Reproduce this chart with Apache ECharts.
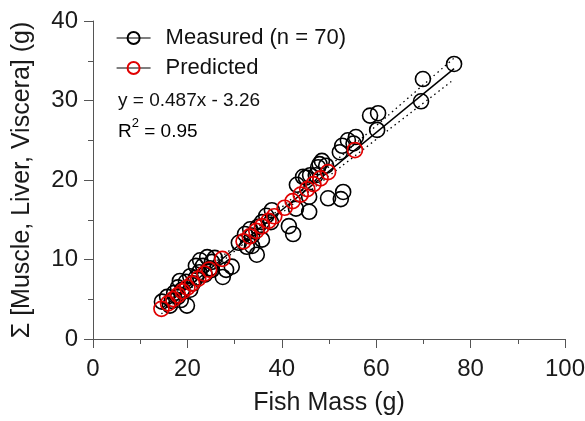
<!DOCTYPE html>
<html><head><meta charset="utf-8">
<script src="https://cdn.jsdelivr.net/npm/echarts@6/dist/echarts.min.js"></script>
<style>html,body{margin:0;padding:0;background:#fff}#c{width:585px;height:421px}</style>
</head><body><div id="c"></div>
<script>
const measuredX = [76.5,69.9,69.5,60.4,58.7,60.2,55.7,54.0,52.8,52.3,53.0,52.5,49.8,48.5,47.7,47.2,45.1,43.2,45.8,45.8,43.0,41.5,42.4,55.2,37.9,36.7,37.7,35.8,34.9,33.3,33.7,35.8,33.7,34.7,32.6,30.9,29.4,28.2,27.5,25.2,24.2,22.7,21.8,23.3,24.8,22.5,23.7,25.2,21.8,19.7,20.6,18.0,18.9,17.2,18.0,15.7,16.7,14.6,19.9,18.6,16.3,20.6,21.2,25.8,32.2,46.0,48.0,44.5,49.4,18.4];
const measuredY = [34.6,32.7,29.9,28.4,28.1,26.3,25.4,25.0,24.3,23.5,18.5,17.6,17.7,22.4,21.6,20.6,20.3,19.4,17.9,16.0,16.4,14.2,13.2,24.6,16.2,15.5,14.7,14.7,14.1,13.8,13.0,12.5,11.7,10.6,11.6,12.1,9.1,8.7,7.8,9.7,10.3,9.9,9.2,9.2,8.9,8.4,8.1,8.7,7.7,7.2,7.9,6.5,6.2,5.8,5.3,5.3,4.8,4.7,4.2,4.9,4.2,6.2,7.0,10.2,13.2,20.6,22.0,20.4,21.8,7.3];
const predictedX = [14.5,15.9,17,18,19,20,21,22.3,23.6,24.6,27.4,31.9,33.2,34.6,35.8,37.2,38.4,40.6,42.3,44,45.4,46.7,48.2,49.8,55.5];
const predictedY = [3.80,4.48,5.02,5.51,5.99,6.48,6.97,7.60,8.23,8.72,10.08,12.28,12.91,13.59,14.17,14.86,15.44,16.51,17.34,18.17,18.85,19.48,20.21,20.99,23.77];
const fitX = [14.5, 76.5];
const fitY = [3.80, 34.00];
const bandX = [14.5,20,25,30,35,40,45,50,55,60,65,70,76.5];
const bandUpper = [4.43,6.97,9.30,11.66,14.10,16.59,19.13,21.68,24.25,26.82,29.40,31.98,35.34];
const bandLower = [3.17,5.99,8.54,11.04,13.48,15.85,18.19,20.50,22.81,25.10,27.40,29.68,32.66];
const xTicks = [0,20,40,60,80,100];
const yTicks = [0,10,20,30,40];
const eqText = 'y = 0.487x - 3.26';
const r2Text = '0.95';

const zip = (a,b) => a.map((v,i)=>[v,b[i]]);
const FONT = '"Liberation Sans", Arial, sans-serif';
const chart = echarts.init(document.getElementById('c'), null, {renderer:'canvas'});
const axisCommon = {
  axisLine:{show:true,onZero:false,lineStyle:{color:'#555',width:1}},
  axisTick:{show:true,inside:false,length:9,lineStyle:{color:'#555',width:1}},
  minorTick:{show:true,splitNumber:2,length:5,lineStyle:{color:'#555',width:1}},
  splitLine:{show:false},
  axisLabel:{color:'#1a1a1a',fontSize:24,fontFamily:FONT},
  nameTextStyle:{color:'#1a1a1a',fontSize:25,fontFamily:FONT}
};
chart.setOption({
  animation:false,
  backgroundColor:'#fff',
  grid:{left:93,right:20,top:21,bottom:82,containLabel:false,outerBoundsMode:'none'},
  xAxis: Object.assign({}, axisCommon, {
    type:'value', min:xTicks[0], max:xTicks[xTicks.length-1], interval:20,
    name:'Fish Mass (g)', nameLocation:'middle', nameGap:52,
    axisLabel:Object.assign({}, axisCommon.axisLabel, {margin:18})
  }),
  yAxis: Object.assign({}, axisCommon, {
    type:'value', min:yTicks[0], max:yTicks[yTicks.length-1], interval:10,
    name:'Σ [Muscle, Liver, Viscera] (g)', nameLocation:'middle', nameGap:58, nameRotate:90,
    axisLabel:Object.assign({}, axisCommon.axisLabel, {margin:15})
  }),
  legend:{
    orient:'vertical', left:111, top:22, itemWidth:34, itemHeight:15, itemGap:8,
    data:['Measured (n = 70)','Predicted'],
    textStyle:{fontSize:22,fontFamily:FONT,color:'#111',padding:[0,0,0,10]},
    lineStyle:{color:'#000',width:1.2,opacity:1},
    selectedMode:false
  },
  graphic:[
    {type:'text', left:118, top:91, style:{text:eqText, font:'19px "Liberation Sans", Arial, sans-serif', fill:'#111'}},
    {type:'text', left:118, top:117, style:{
      text:'{r|R}{s|2}{r| = '+r2Text+'}',
      rich:{r:{fontSize:19,fontFamily:FONT,color:'#111',verticalAlign:'bottom',lineHeight:24},
            s:{fontSize:13,fontFamily:FONT,color:'#111',verticalAlign:'top',lineHeight:24}}
    }}
  ],
  series:[
    {name:'Measured (n = 70)', type:'line', data:zip(measuredX,measuredY),
     symbol:'circle', symbolSize:15, showAllSymbol:true,
     lineStyle:{opacity:0,width:0},
     itemStyle:{color:'rgba(0,0,0,0)',borderColor:'#000',borderWidth:1.6},
     emphasis:{disabled:true}, z:2},
    {name:'fit', type:'line', data:zip(fitX,fitY), symbol:'none',
     lineStyle:{color:'#000',width:1.5}, z:3, silent:true},
    {name:'upper', type:'line', data:zip(bandX,bandUpper), symbol:'none', smooth:true,
     lineStyle:{color:'#000',width:1.3,type:[1.5,3.5]}, z:3, silent:true},
    {name:'lower', type:'line', data:zip(bandX,bandLower), symbol:'none', smooth:true,
     lineStyle:{color:'#000',width:1.3,type:[1.5,3.5]}, z:3, silent:true},
    {name:'Predicted', type:'line', data:zip(predictedX,predictedY),
     symbol:'circle', symbolSize:15, showAllSymbol:true,
     lineStyle:{opacity:0,width:0},
     itemStyle:{color:'rgba(0,0,0,0)',borderColor:'#e00000',borderWidth:1.7},
     emphasis:{disabled:true}, z:4}
  ]
});
</script></body></html>
